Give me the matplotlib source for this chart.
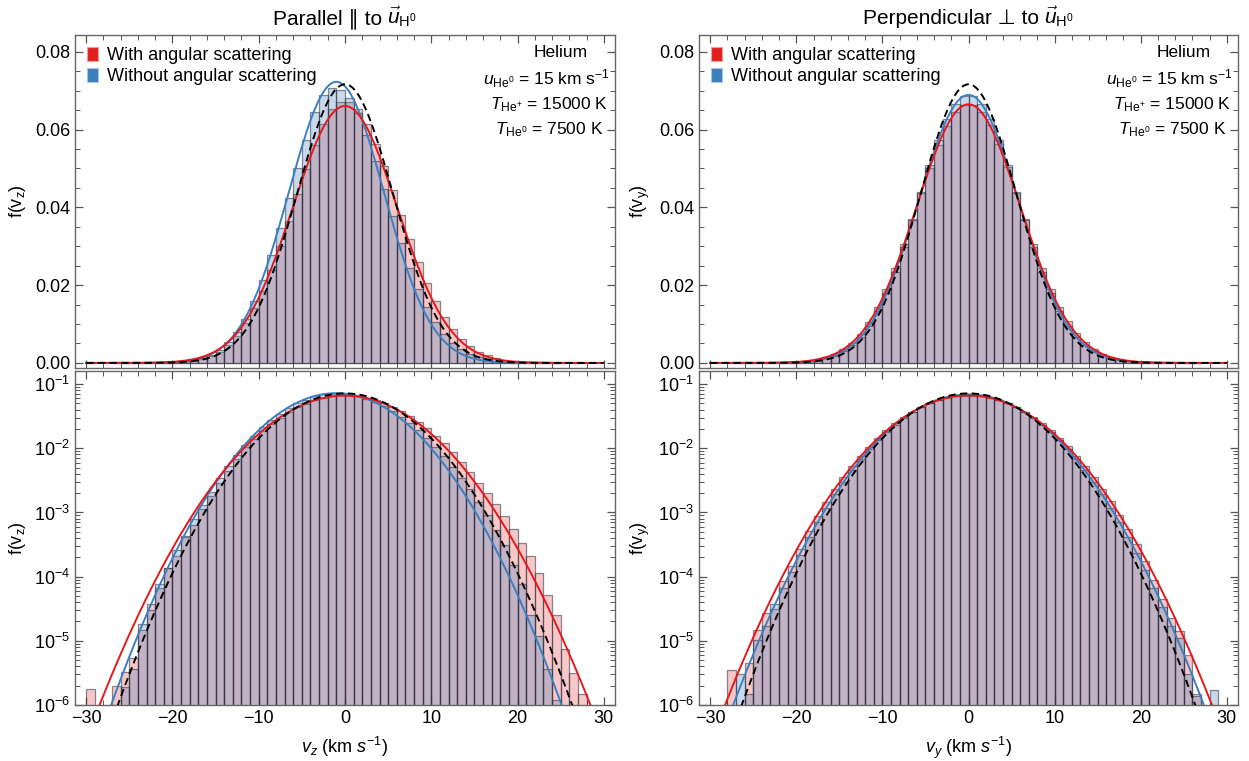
import numpy as np
import matplotlib
matplotlib.use('Agg')
import matplotlib.pyplot as plt
from matplotlib.patches import Patch
from matplotlib.ticker import MultipleLocator, LogLocator, NullFormatter, FormatStrFormatter

plt.rcParams['font.family'] = ['Liberation Sans', 'DejaVu Sans']
plt.rcParams['mathtext.fontset'] = 'custom'
plt.rcParams['mathtext.rm'] = 'Liberation Sans'
plt.rcParams['mathtext.it'] = 'Liberation Sans:italic'
plt.rcParams['mathtext.bf'] = 'Liberation Sans:bold'
plt.rcParams['mathtext.sf'] = 'Liberation Sans'

# ---------------- data ----------------
bin_edges = list(range(-30, 31))   # km/s, width 1

# Parallel (v_z) histograms
par_with = [1.76e-6, 0, 0, 2.0e-6, 3.3e-6, 5.4e-6, 1.5e-5, 3.8e-5, 6.6e-5, 1.35e-4,
            2.1e-4, 4.1e-4, 6.4e-4, 1.13e-3, 1.8e-3, 2.9e-3, 4.5e-3, 6.8e-3, 0.0103, 0.0140,
            0.0186, 0.0240, 0.0301, 0.0366, 0.0433, 0.0498, 0.0560, 0.0613, 0.0652, 0.0672,
            0.0672, 0.0652, 0.0614, 0.0564, 0.0506, 0.0444, 0.0381, 0.0319, 0.0259, 0.0205,
            0.0158, 0.0119, 0.0087, 0.0062, 0.0043, 0.0029, 0.0020, 1.35e-3, 8.8e-4, 5.6e-4,
            3.3e-4, 2.1e-4, 1.15e-4, 5.2e-5, 2.5e-5, 7.5e-6, 3.2e-6, 1.5e-6, 0, 0]
par_without = [0, 0, 0, 0, 1.9e-6, 3.6e-6, 1.8e-5, 3.0e-5, 7.7e-5, 1.35e-4,
               2.6e-4, 4.3e-4, 7.8e-4, 1.3e-3, 2.1e-3, 3.4e-3, 5.3e-3, 7.9e-3, 0.0114, 0.0158,
               0.0213, 0.0277, 0.0348, 0.0425, 0.0502, 0.0574, 0.0645, 0.0690, 0.0708, 0.0702,
               0.0682, 0.0643, 0.0585, 0.0519, 0.0448, 0.0377, 0.0308, 0.0245, 0.0190, 0.0143,
               0.0105, 0.0075, 0.0052, 0.0035, 0.0023, 1.45e-3, 9.0e-4, 5.4e-4, 3.1e-4, 1.5e-4,
               7.8e-5, 2.5e-5, 1.2e-5, 3.7e-6, 1.2e-6, 0, 0, 0, 0, 0]

# Perpendicular (v_y) histograms
perp_with = [0, 0, 3.5e-6, 0, 4.5e-6, 1.5e-5, 2.7e-5, 3.1e-5, 8.6e-5, 1.45e-4,
             2.7e-4, 5.2e-4, 8.9e-4, 1.47e-3, 2.32e-3, 3.55e-3, 5.25e-3, 7.55e-3, 0.0106, 0.0144,
             0.0190, 0.0244, 0.0305, 0.0370, 0.0437, 0.0502, 0.0561, 0.0610, 0.0645, 0.0663,
             0.0663, 0.0645, 0.0611, 0.0562, 0.0503, 0.0438, 0.0371, 0.0306, 0.0245, 0.0191,
             0.0145, 0.0107, 7.6e-3, 5.3e-3, 3.6e-3, 2.35e-3, 1.5e-3, 9.2e-4, 5.5e-4, 3.2e-4,
             1.75e-4, 9.0e-5, 4.5e-5, 2.3e-5, 1.4e-5, 6.0e-6, 1.5e-6, 0, 0, 0]
perp_without = [0, 0, 0, 3.0e-6, 1.5e-6, 1.03e-5, 1.7e-5, 3.7e-5, 6.6e-5, 1.2e-4,
                2.2e-4, 4.1e-4, 7.1e-4, 1.19e-3, 1.91e-3, 2.99e-3, 4.54e-3, 6.7e-3, 9.58e-3, 0.0133,
                0.0179, 0.0234, 0.0297, 0.0367, 0.0439, 0.0509, 0.0574, 0.0627, 0.0666, 0.0686,
                0.0686, 0.0665, 0.0626, 0.0573, 0.0508, 0.0439, 0.0367, 0.0297, 0.0234, 0.0179,
                0.0133, 9.6e-3, 6.7e-3, 4.55e-3, 3.0e-3, 1.92e-3, 1.19e-3, 7.2e-4, 4.1e-4, 2.3e-4,
                1.25e-4, 6.6e-5, 3.4e-5, 1.7e-5, 1.1e-5, 3.0e-6, 1.4e-6, 0, 1.7e-6, 0]

# Fitted Gaussian curves: (mean, sigma) in km/s
par_fit_with = (0.0, 6.04)
par_fit_without = (-1.0, 5.52)
perp_fit_with = (0.0, 6.00)
perp_fit_without = (0.0, 5.79)
maxwellian = (0.0, 5.57)

title_words = ['Parallel \u2225 to', 'Perpendicular \u22a5 to']
title_symbol = r'$\vec{u}_{\mathrm{H}^0}$'
ylabels = [r'f(v$_{\mathrm{z}}$)', r'f(v$_{\mathrm{y}}$)']
xlabels = [r'$v_z$ (km $s^{-1}$)', r'$v_y$ (km $s^{-1}$)']
legend_labels = ['With angular scattering', 'Without angular scattering']
annot = ['Helium', r'$u_{\mathrm{He}^0}$ = 15 km s$^{-1}$',
         r'$T_{\mathrm{He}^{+}}$ = 15000 K', r'$T_{\mathrm{He}^0}$ = 7500 K']

# ---------------- style ----------------
RED_FACE = (235/255, 75/255, 75/255, 0.30)
BLUE_FACE = (70/255, 130/255, 190/255, 0.30)
EDGE = (0.18, 0.18, 0.24, 0.55)
RED_LINE = '#E5191C'
BLUE_LINE = '#3A80C2'
SPINE = '#666666'

W, H = 1249, 761
fig = plt.figure(figsize=(W/100, H/100), dpi=100)
renderer = fig.canvas.get_renderer()

def fx(px):
    return px / W

def fy(py):
    return 1 - py / H

cols = [(75, 615), (699, 1238)]
top_box = (35, 368)
bot_box = (371, 705)

edges = np.array(bin_edges, dtype=float)
centers = 0.5 * (edges[:-1] + edges[1:])
widths = np.diff(edges)

def gauss(x, p):
    mu, s = p
    return np.exp(-0.5 * ((x - mu) / s) ** 2) / (np.sqrt(2 * np.pi) * s)

xs = np.linspace(-30, 30, 1200)

def draw_hist(ax, vals, face, log):
    v = np.asarray(vals, dtype=float)
    m = v > 0
    base = 1e-9 if log else 0.0
    ax.bar(centers[m], v[m] - base, width=widths[m], bottom=base, align='center',
           facecolor=face, edgecolor=EDGE, linewidth=0.9, zorder=2)

def style(ax):
    for s in ax.spines.values():
        s.set_color(SPINE)
        s.set_linewidth(1.0)
    ax.tick_params(which='both', direction='in', top=True, right=True, colors='#555555',
                   labelcolor='black', labelsize=13)
    ax.tick_params(which='major', length=6, width=0.9)
    ax.tick_params(which='minor', length=3.5, width=0.7)

def put_title(center_px, words):
    yb = fy(24)
    t1 = fig.text(0, yb, words, fontsize=15, va='baseline', ha='left',
                  family=['Liberation Sans', 'DejaVu Sans'])
    t2 = fig.text(0, yb, title_symbol, fontsize=15, va='baseline', ha='left')
    w1 = t1.get_window_extent(renderer).width
    w2 = t2.get_window_extent(renderer).width
    gap = 5.0
    start = center_px - (w1 + gap + w2) / 2
    t1.set_x(fx(start))
    t2.set_x(fx(start + w1 + gap))

datasets = [
    (par_with, par_without, par_fit_with, par_fit_without),
    (perp_with, perp_without, perp_fit_with, perp_fit_without),
]

for k, (hw, hwo, fw, fwo) in enumerate(datasets):
    x0, x1 = cols[k]
    for j, (box, log) in enumerate([(top_box, False), (bot_box, True)]):
        y0, y1 = box
        ax = fig.add_axes([fx(x0), fy(y1), fx(x1 - x0), fy(y0) - fy(y1)])
        draw_hist(ax, hw, RED_FACE, log)
        draw_hist(ax, hwo, BLUE_FACE, log)
        ax.plot(xs, gauss(xs, fwo), color=BLUE_LINE, lw=1.4, zorder=3)
        ax.plot(xs, gauss(xs, fw), color=RED_LINE, lw=1.4, zorder=4)
        ax.plot(xs, gauss(xs, maxwellian), color='black', lw=1.4, ls=(0, (3.8, 2.2)), zorder=5)
        ax.set_xlim(-31.3, 31.3)
        ax.xaxis.set_major_locator(MultipleLocator(10))
        ax.xaxis.set_minor_locator(MultipleLocator(2))
        style(ax)
        if not log:
            ax.set_ylim(-0.0013, 0.0843)
            ax.yaxis.set_major_locator(MultipleLocator(0.02))
            ax.yaxis.set_minor_locator(MultipleLocator(0.005))
            ax.yaxis.set_major_formatter(FormatStrFormatter('%.2f'))
            ax.set_xticklabels([])
            put_title((x0 + x1) / 2, title_words[k])
            ax.set_ylabel(ylabels[k], fontsize=13, labelpad=5)
            ax.legend(handles=[Patch(facecolor='#E0201E', edgecolor='#F2A0A0', lw=0.8),
                               Patch(facecolor='#3C7FC0', edgecolor='#A8C4E0', lw=0.8)],
                      labels=legend_labels, loc='upper left', frameon=False,
                      fontsize=13, handlelength=0.65, handleheight=0.85,
                      handletextpad=0.45, labelspacing=0.2,
                      borderaxespad=0.25, bbox_to_anchor=(0.0, 1.0))
            ys = [0.946, 0.869, 0.791, 0.716]
            xsx = [0.90, 0.873, 0.878, 0.878]
            for t, yy, xx in zip(annot, ys, xsx):
                ax.text(xx, yy, t, transform=ax.transAxes, ha='center', va='center',
                        fontsize=12.5)
        else:
            ax.set_yscale('log')
            ax.set_ylim(1e-6, 0.16)
            ax.yaxis.set_major_locator(LogLocator(base=10, numticks=12))
            ax.yaxis.set_minor_locator(LogLocator(base=10, subs=np.arange(2, 10), numticks=12))
            ax.yaxis.set_minor_formatter(NullFormatter())
            ax.set_ylabel(ylabels[k], fontsize=13, labelpad=4)
            ax.set_xlabel(xlabels[k], fontsize=13, labelpad=6)

fig.savefig('out.png', dpi=100)
